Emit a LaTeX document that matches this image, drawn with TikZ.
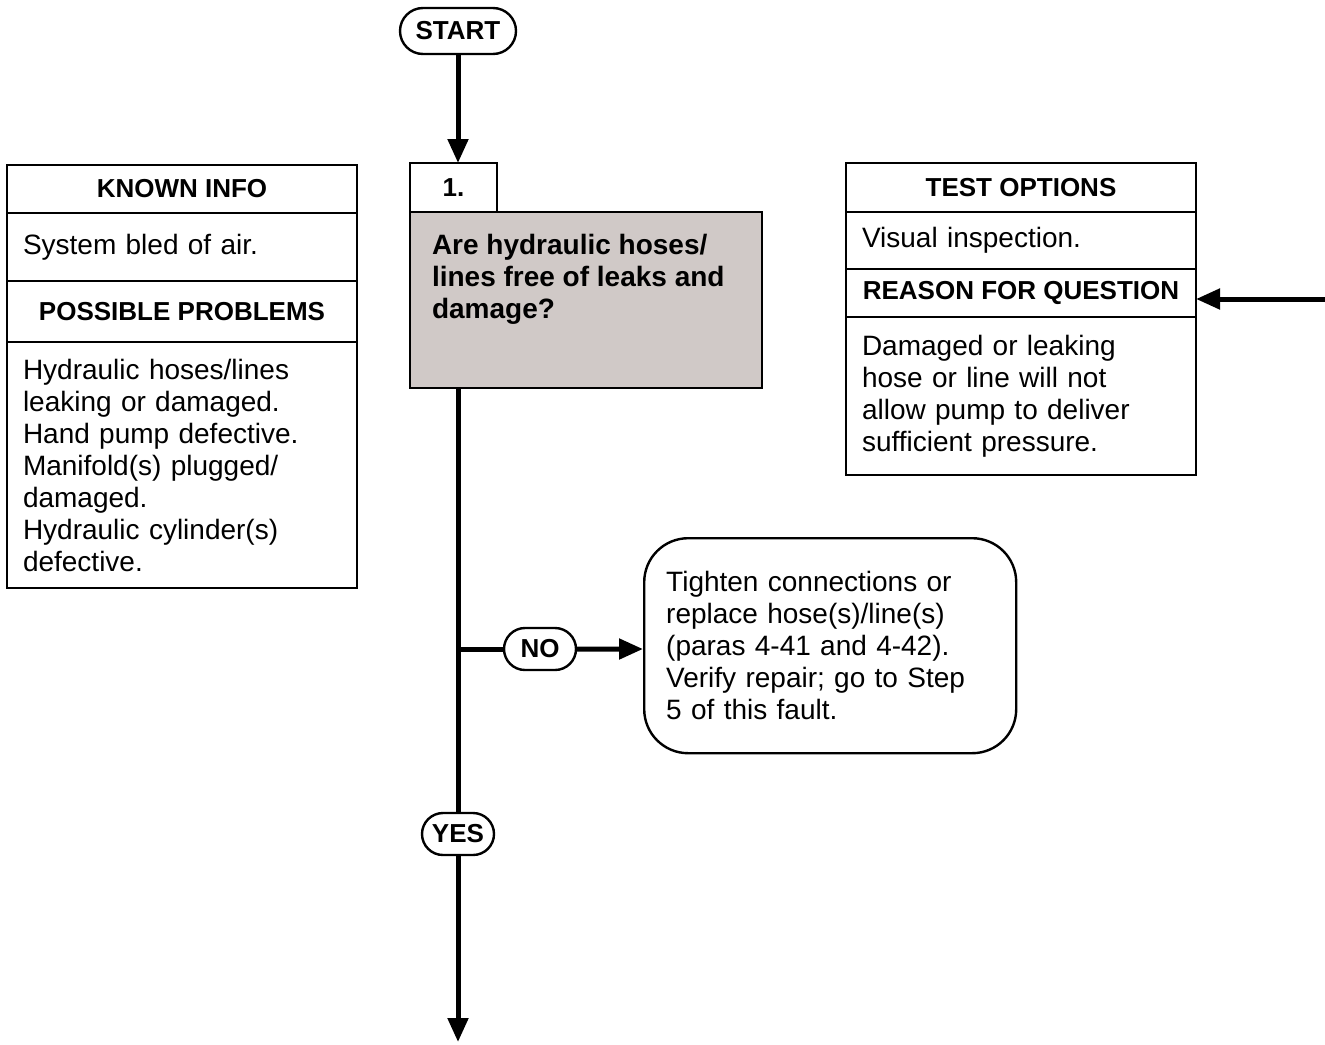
\documentclass[tikz,border=0pt]{standalone}
\usepackage{fontspec}
\setmainfont{Liberation Sans}
\usetikzlibrary{positioning,shapes.misc,arrows.meta}
\definecolor{QGray}{HTML}{D0C9C7}

\begin{document}
\begin{tikzpicture}[x=0.5pt,y=-0.5pt,
  flow/.style={line width=2.5pt},
  arr/.style={-{Triangle[length=12pt,width=10pt]}},
  cell/.style={draw,line width=1.2pt,minimum width=175pt,inner sep=0pt,outer sep=0pt},
  hdrcell/.style={cell,font=\fontsize{13}{15}\selectfont\bfseries},
  txtcell/.style={cell,font=\fontsize{14}{16}\selectfont,align=left,text width=159pt},
  stepbox/.style={draw,line width=1.2pt,minimum width=43.5pt,minimum height=24.5pt,inner sep=0pt,outer sep=0pt,font=\fontsize{13}{15}\selectfont\bfseries},
  qbox/.style={draw,line width=1.2pt,fill=QGray,inner xsep=11pt,inner ysep=10pt,outer sep=0pt,font=\fontsize{14}{16}\selectfont\bfseries},
  fixbox/.style={draw,line width=1.2pt,rounded corners=22pt,minimum width=186pt,minimum height=107.5pt,text width=164pt,align=left,inner sep=0pt,font=\fontsize{14}{16}\selectfont},
  pill/.style={rounded rectangle,draw,line width=1.2pt,minimum width=38pt,minimum height=21pt,inner sep=1pt,font=\fontsize{13}{15}\selectfont\bfseries}]
\useasboundingbox (0,0) rectangle (1325,1044);

% left info column
\node[hdrcell,minimum height=24pt,anchor=north west] (kihead) at (7,165) {KNOWN INFO};
\node[txtcell,minimum height=34pt,below=0pt of kihead] (kibody) {System bled of air.};
\node[hdrcell,minimum height=30.5pt,below=0pt of kibody] (pphead) {POSSIBLE PROBLEMS};
\node[txtcell,minimum height=123pt,below=0pt of pphead] (ppbody) {Hydraulic hoses/lines\\leaking or damaged.\\Hand pump defective.\\Manifold(s) plugged/\\damaged.\\Hydraulic cylinder(s)\\defective.};

% right info column
\node[hdrcell,minimum height=24.5pt,anchor=north west] (tohead) at (846,163) {TEST OPTIONS};
\node[txtcell,minimum height=28.5pt,below=0pt of tohead] (tobody) {Visual inspection.};
\node[hdrcell,minimum height=24pt,below=0pt of tobody] (rqhead) {REASON FOR QUESTION};
\node[txtcell,minimum height=79pt,below=0pt of rqhead] (rqbody) {Damaged or leaking\\hose or line will not\\allow pump to deliver\\sufficient pressure.};

% step 1
\node[pill,minimum width=60pt,minimum height=23pt] (start) at (458,31) {START};
\node[stepbox,anchor=south west] (step) at (410,212) {1.};
\node[qbox,anchor=north west] (q) at (step.south west) {\parbox[t][68pt][t]{154pt}{\vspace*{1pt}Are hydraulic hoses/\\lines free of leaks and\\damage?}};
\node[fixbox,anchor=north west] (fix) at (643,537) {Tighten connections or\\replace hose(s)/line(s)\\(paras 4-41 and 4-42).\\Verify repair; go to Step\\5 of this fault.};
\node[pill] (no) at (540,649) {NO};
\node[pill] (yes) at (458,834) {YES};
\coordinate (exit) at (458,1042);
\coordinate (rin) at (1325,299);

\draw[flow,arr] (start) -- (start |- step.north);
\draw[flow] (q.south -| yes) -- (yes);
\draw[flow] (no -| yes) -- (no);
\draw[flow,arr] (no) -- (no -| fix.west);
\draw[flow,arr] (yes) -- (exit);
\draw[flow,arr] (rin) -- (rin -| rqhead.east);
\end{tikzpicture}
\end{document}
